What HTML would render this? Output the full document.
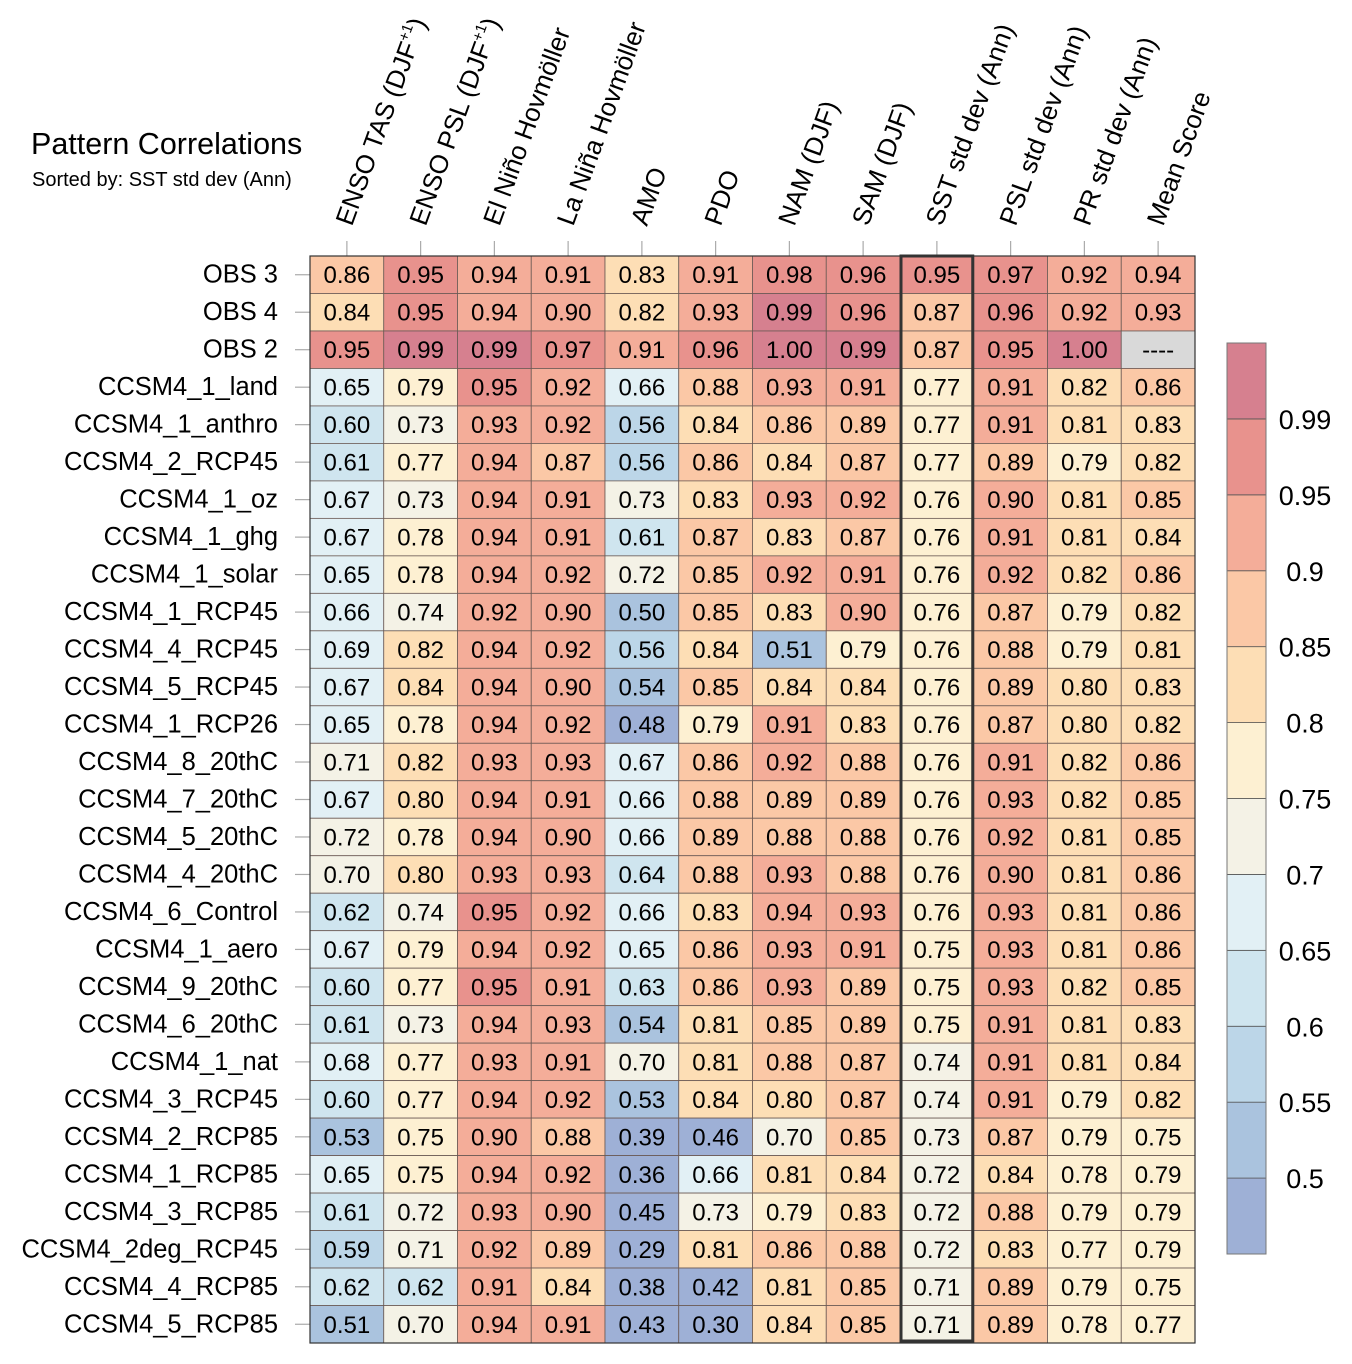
<!DOCTYPE html>
<html><head><meta charset="utf-8"><style>
html,body{margin:0;padding:0;background:#fff}
svg{display:block;font-family:"Liberation Sans",Arial,sans-serif}
</style></head><body>
<svg id="chart" width="1352" height="1364" viewBox="0 0 1352 1364">
<text x="31" y="154" font-size="30.5">Pattern Correlations</text>
<text x="32" y="186" font-size="20">Sorted by: SST std dev (Ann)</text>
<g id="grid"></g>
<g id="cbar"></g>
</svg>
<script>
const columns=["ENSO TAS (DJF|+1|)","ENSO PSL (DJF|+1|)","El Niño Hovmöller","La Niña Hovmöller","AMO","PDO","NAM (DJF)","SAM (DJF)","SST std dev (Ann)","PSL std dev (Ann)","PR std dev (Ann)","Mean Score"];
const rows=["OBS 3","OBS 4","OBS 2","CCSM4_1_land","CCSM4_1_anthro","CCSM4_2_RCP45","CCSM4_1_oz","CCSM4_1_ghg","CCSM4_1_solar","CCSM4_1_RCP45","CCSM4_4_RCP45","CCSM4_5_RCP45","CCSM4_1_RCP26","CCSM4_8_20thC","CCSM4_7_20thC","CCSM4_5_20thC","CCSM4_4_20thC","CCSM4_6_Control","CCSM4_1_aero","CCSM4_9_20thC","CCSM4_6_20thC","CCSM4_1_nat","CCSM4_3_RCP45","CCSM4_2_RCP85","CCSM4_1_RCP85","CCSM4_3_RCP85","CCSM4_2deg_RCP45","CCSM4_4_RCP85","CCSM4_5_RCP85"];
const values=[
[0.86,0.95,0.94,0.91,0.83,0.91,0.98,0.96,0.95,0.97,0.92,0.94],
[0.84,0.95,0.94,0.90,0.82,0.93,0.99,0.96,0.87,0.96,0.92,0.93],
[0.95,0.99,0.99,0.97,0.91,0.96,1.00,0.99,0.87,0.95,1.00,null],
[0.65,0.79,0.95,0.92,0.66,0.88,0.93,0.91,0.77,0.91,0.82,0.86],
[0.60,0.73,0.93,0.92,0.56,0.84,0.86,0.89,0.77,0.91,0.81,0.83],
[0.61,0.77,0.94,0.87,0.56,0.86,0.84,0.87,0.77,0.89,0.79,0.82],
[0.67,0.73,0.94,0.91,0.73,0.83,0.93,0.92,0.76,0.90,0.81,0.85],
[0.67,0.78,0.94,0.91,0.61,0.87,0.83,0.87,0.76,0.91,0.81,0.84],
[0.65,0.78,0.94,0.92,0.72,0.85,0.92,0.91,0.76,0.92,0.82,0.86],
[0.66,0.74,0.92,0.90,0.50,0.85,0.83,0.90,0.76,0.87,0.79,0.82],
[0.69,0.82,0.94,0.92,0.56,0.84,0.51,0.79,0.76,0.88,0.79,0.81],
[0.67,0.84,0.94,0.90,0.54,0.85,0.84,0.84,0.76,0.89,0.80,0.83],
[0.65,0.78,0.94,0.92,0.48,0.79,0.91,0.83,0.76,0.87,0.80,0.82],
[0.71,0.82,0.93,0.93,0.67,0.86,0.92,0.88,0.76,0.91,0.82,0.86],
[0.67,0.80,0.94,0.91,0.66,0.88,0.89,0.89,0.76,0.93,0.82,0.85],
[0.72,0.78,0.94,0.90,0.66,0.89,0.88,0.88,0.76,0.92,0.81,0.85],
[0.70,0.80,0.93,0.93,0.64,0.88,0.93,0.88,0.76,0.90,0.81,0.86],
[0.62,0.74,0.95,0.92,0.66,0.83,0.94,0.93,0.76,0.93,0.81,0.86],
[0.67,0.79,0.94,0.92,0.65,0.86,0.93,0.91,0.75,0.93,0.81,0.86],
[0.60,0.77,0.95,0.91,0.63,0.86,0.93,0.89,0.75,0.93,0.82,0.85],
[0.61,0.73,0.94,0.93,0.54,0.81,0.85,0.89,0.75,0.91,0.81,0.83],
[0.68,0.77,0.93,0.91,0.70,0.81,0.88,0.87,0.74,0.91,0.81,0.84],
[0.60,0.77,0.94,0.92,0.53,0.84,0.80,0.87,0.74,0.91,0.79,0.82],
[0.53,0.75,0.90,0.88,0.39,0.46,0.70,0.85,0.73,0.87,0.79,0.75],
[0.65,0.75,0.94,0.92,0.36,0.66,0.81,0.84,0.72,0.84,0.78,0.79],
[0.61,0.72,0.93,0.90,0.45,0.73,0.79,0.83,0.72,0.88,0.79,0.79],
[0.59,0.71,0.92,0.89,0.29,0.81,0.86,0.88,0.72,0.83,0.77,0.79],
[0.62,0.62,0.91,0.84,0.38,0.42,0.81,0.85,0.71,0.89,0.79,0.75],
[0.51,0.70,0.94,0.91,0.43,0.30,0.84,0.85,0.71,0.89,0.78,0.77]];
const levels=[0.5,0.55,0.6,0.65,0.7,0.75,0.8,0.85,0.9,0.95,0.99];
const levelLabels=["0.5","0.55","0.6","0.65","0.7","0.75","0.8","0.85","0.9","0.95","0.99"];
const palette=["#9eb0d6","#aac3de","#bcd6e8","#cfe5ef","#e2f0f5","#f4f2e6","#fdf0d2","#fddeb5","#fbc8a6","#f4ad99","#e8928d","#d6808f"];
const highlightCol=8;

const NS="http://www.w3.org/2000/svg";
const X0=310,X1=1195,Y0=256,Y1=1343;
const cw=(X1-X0)/columns.length, rh=(Y1-Y0)/rows.length;
function xc(i){return X0+cw*i;}
function yr(j){return Y0+rh*j;}
function colorFor(v){if(v==null)return "#d9d9d9";let k=0;while(k<levels.length&&v>=levels[k]-1e-9)k++;return palette[k];}
function mk(tag,attrs,parent){const e=document.createElementNS(NS,tag);for(const a in attrs)e.setAttribute(a,attrs[a]);parent.appendChild(e);return e;}
const g=document.getElementById('grid');
rows.forEach((r,j)=>{
  values[j].forEach((v,i)=>{
    const rc=mk('rect',{x:xc(i),y:yr(j),width:cw,height:rh,fill:colorFor(v),stroke:"#6b5a55","stroke-width":0.8},g);
    
    
    const t=mk('text',{x:xc(i)+cw/2,y:yr(j)+rh/2+8.5,"font-size":24,"text-anchor":"middle",fill:"#000"},g);
    t.textContent=v==null?"----":v.toFixed(2);
    
    
  });
  const lb=mk('text',{x:278,y:yr(j)+rh/2+8,"font-size":25.5,"text-anchor":"end"},g);
  lb.textContent=r;
  
  
  const tk=mk('line',{x1:295,x2:310,y1:yr(j)+rh/2,y2:yr(j)+rh/2,stroke:"#aaa","stroke-width":1.2},g);
  
  
});
columns.forEach((c,i)=>{
  const cx=xc(i)+cw/2;
  const tk=mk('line',{x1:cx,x2:cx,y1:241,y2:256,stroke:"#aaa","stroke-width":1.2},g);
  
  
  const t=mk('text',{x:cx+5,y:227,"font-size":26,transform:`rotate(-70 ${cx+5} 227)`},g);
  const parts=c.split('|');
  parts.forEach((p,k)=>{
    const s=mk('tspan',k===1?{"font-size":15,dy:-11}:(k===2?{dy:11}:{}),t);
    s.textContent=p;
  });
  
  
});
const ob=mk('rect',{x:X0,y:Y0,width:X1-X0,height:Y1-Y0,fill:"none",stroke:"#333","stroke-width":1.2},g);


const hl=mk('rect',{x:xc(highlightCol)+1,y:Y0,width:cw-2,height:Y1-Y0-2,fill:"none",stroke:"#333","stroke-width":3},g);



const cb=document.getElementById('cbar');
const CBX=1227,CBW=39,CBT=343,CBB=1254;
const bh=(CBB-CBT)/palette.length;
palette.forEach((p,k)=>{
  const y=CBB-bh*(k+1);
  const r=mk('rect',{x:CBX,y:y,width:CBW,height:bh,fill:p,stroke:"#555","stroke-width":0.8},cb);
  
  
});
levels.forEach((l,k)=>{
  const y=CBB-bh*(k+1);
  const t=mk('text',{x:1305,y:y+10,"font-size":27,"text-anchor":"middle"},cb);
  t.textContent=levelLabels[k];
  
  
});
const cbo=mk('rect',{x:CBX,y:CBT,width:CBW,height:CBB-CBT,fill:"none",stroke:"#777","stroke-width":1},cb);


</script>
</body></html>
